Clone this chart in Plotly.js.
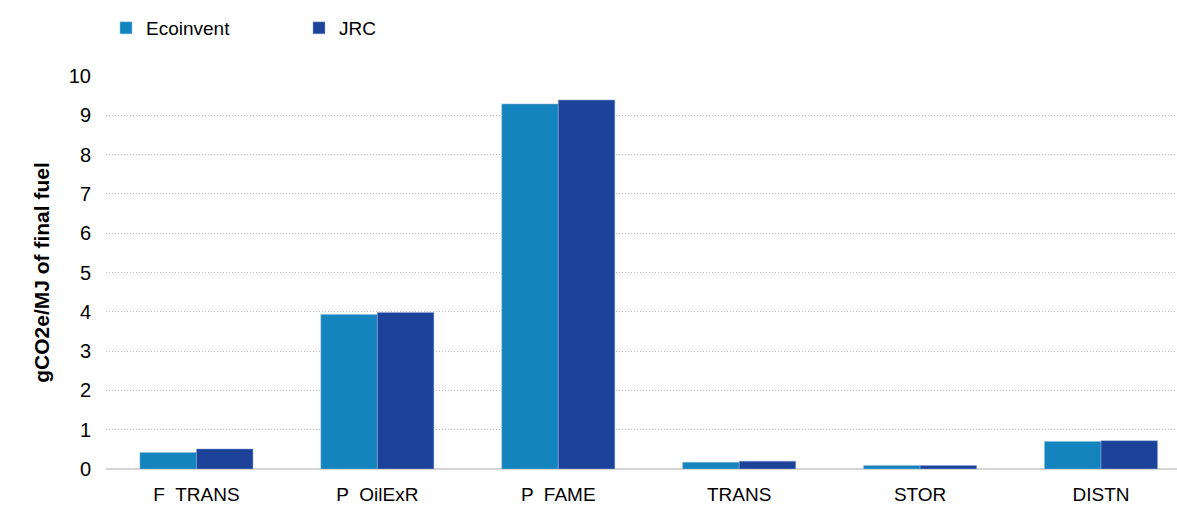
<!DOCTYPE html>
<html><head><meta charset="utf-8">
<script src="https://cdn.plot.ly/plotly-3.0.1.min.js"></script>
<style>html,body{margin:0;padding:0;background:#fff}#chart{width:1177px;height:505px}</style>
</head><body><div id="chart"></div>
<script>
const categories = ["F  TRANS", "P  OilExR", "P  FAME", "TRANS", "STOR", "DISTN"];
const ecoinvent = [0.42, 3.93, 9.29, 0.17, 0.09, 0.70];
const jrc = [0.51, 3.98, 9.39, 0.20, 0.09, 0.72];
const tickVals = [0,1,2,3,4,5,6,7,8,9,10];

const traces = [
  {type:"bar", name:"Ecoinvent", x:categories, y:ecoinvent, marker:{color:"#1484BF", line:{color:"#8fb8dc", width:0.5}}},
  {type:"bar", name:"JRC", x:categories, y:jrc, marker:{color:"#1C4399", line:{color:"#8fa8dc", width:0.5}}}
];
const layout = {
  width:1177, height:505,
  margin:{l:106, r:0, t:76, b:36},
  paper_bgcolor:"#fff", plot_bgcolor:"#fff",
  font:{family:"Liberation Sans, Arial, sans-serif", color:"#000", size:19},
  barmode:"group", bargap:0.375, bargroupgap:0,
  showlegend:true,
  legend:{orientation:"h", x:0.0, xref:"paper", y:1-28/505, yref:"container", yanchor:"middle", xanchor:"left",
          font:{size:19}, itemwidth:30, traceorder:"normal", entrywidth:148},
  xaxis:{range:[-0.5, 5.42], showgrid:false, showline:false, ticks:"", tickfont:{size:19}, zeroline:false, ticklabelstandoff:12},
  yaxis:{range:[0,10], tickvals:tickVals, ticktext:tickVals.map(String), showgrid:true, gridcolor:"#c0c0c0", griddash:"1px,2px", gridwidth:1,
         zeroline:true, zerolinecolor:"#d4d4d4", zerolinewidth:2, showline:false, ticks:"", ticklen:0, tickfont:{size:20},
         ticklabelstandoff:14,
         title:{text:"<b>gCO2e/MJ of final fuel</b>", font:{size:21}, standoff:13}}
};
Plotly.newPlot("chart", traces, layout, {displayModeBar:false});
</script></body></html>
